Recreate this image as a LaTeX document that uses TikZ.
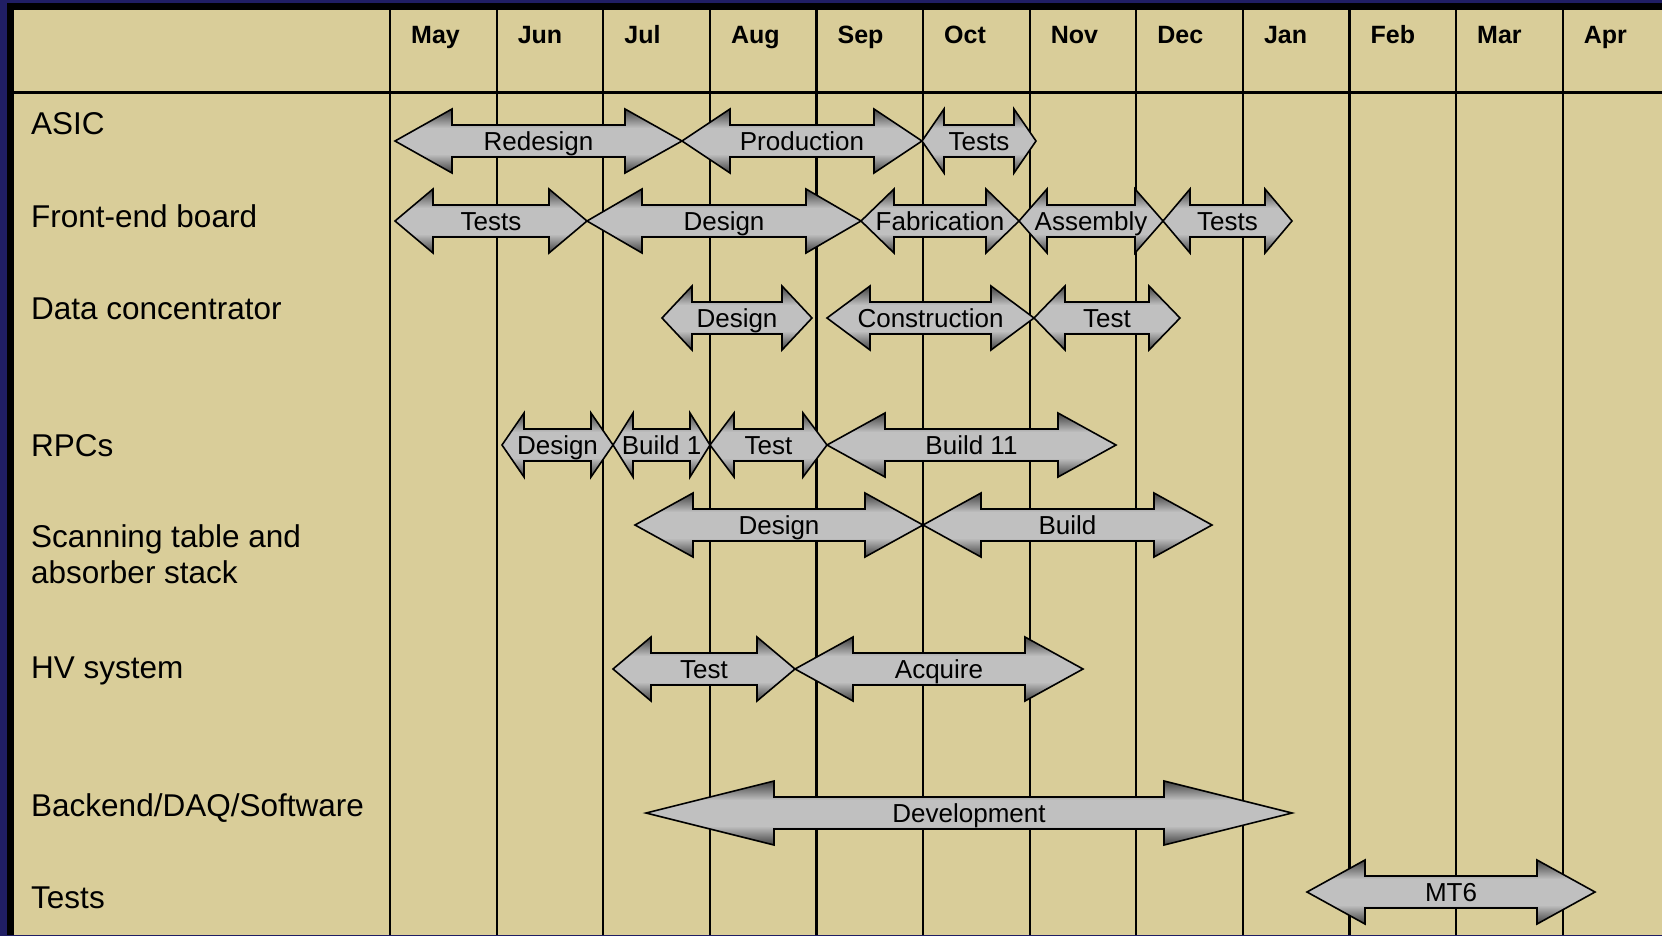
\documentclass[tikz,border=0pt]{standalone}
\usepackage{fontspec}
\setmainfont{Liberation Sans}
\usepackage{tikz}
\usetikzlibrary{positioning}
\definecolor{ganttkhaki}{RGB}{217,205,153}
\definecolor{ganttblue}{RGB}{48,44,140}
\definecolor{ganttnavy}{RGB}{32,30,100}
\definecolor{barlight}{RGB}{192,192,192}
\definecolor{barmid}{RGB}{118,118,118}
\definecolor{bardark}{RGB}{58,58,58}
\tikzset{
  gridline/.style={line width=2.2pt, draw=black},
  rowlabel/.style={anchor=base west, inner sep=0pt, align=left, font=\fontsize{31.5}{36}\selectfont},
  monthlabel/.style={anchor=base west, inner sep=0pt, font=\fontsize{25}{30}\selectfont\bfseries},
  barbox/.style={draw=black, line width=1.6pt, line join=miter},
  bartext/.style={anchor=base, inner sep=0pt, font=\fontsize{26}{30}\selectfont}
}
% double headed bar: name, row y, left tip, right tip, head length, text
\newcommand{\ganttbar}[6]{%
  \def\ganttbarpath{(#3,#2) -- (#3+#5,#2-32) -- (#3+#5,#2-16) -- (#4-#5,#2-16) -- (#4-#5,#2-32)
    -- (#4,#2) -- (#4-#5,#2+32) -- (#4-#5,#2+16) -- (#3+#5,#2+16) -- (#3+#5,#2+32) -- cycle}%
  \begin{scope}
    \clip \ganttbarpath;
    \fill[barlight] (#3,#2-33) rectangle (#4,#2+33);
    \shade[top color=bardark, middle color=barmid, bottom color=barlight] (#3,#2-33) rectangle (#4,#2-13);
    \shade[top color=barlight, middle color=barmid, bottom color=bardark] (#3,#2+13) rectangle (#4,#2+33);
  \end{scope}
  \draw[barbox] \ganttbarpath;
  \node[bartext] (#1) at ({(#3+#4)/2},#2+9) {#6};
}
\begin{document}
\begin{tikzpicture}[x=1pt,y=-1pt]
\useasboundingbox (0,0) rectangle (1662,935);
% frame
\shade[top color=ganttnavy, middle color=ganttblue, bottom color=ganttnavy] (0,0) rectangle (1662,935);
\fill[black] (7.3,3.3) rectangle (1662,935);
\fill[ganttkhaki] (14,10) rectangle (1662,935);

% grid
\draw[gridline] (14,92.5) -- (1662,92.5);
\foreach \i in {0,...,11}
  \draw[gridline] (390+106.6*\i,10) -- (390+106.6*\i,935);

% months
\foreach \m [count=\i from 0] in {May,Jun,Jul,Aug,Sep,Oct,Nov,Dec,Jan,Feb,Mar,Apr}
  \node[monthlabel] (month\i) at (411+106.6*\i,43) {\m};

% rows
\node[rowlabel] (asic) at (31,134) {ASIC};
\node[rowlabel] (feb) at (31,227) {Front-end board};
\node[rowlabel] (dc) at (31,319) {Data concentrator};
\node[rowlabel] (rpc) at (31,456) {RPCs};
\node[rowlabel] (scan) at (31,583) {Scanning table and\\absorber stack};
\node[rowlabel] (hv) at (31,678) {HV system};
\node[rowlabel] (daq) at (31,816) {Backend/DAQ/Software};
\node[rowlabel] (tests) at (31,908) {Tests};

% ASIC
\ganttbar{asicredesign}{141}{395}{682}{57}{Redesign}
\ganttbar{asicprod}{141}{682}{922}{48}{Production}
\ganttbar{asictests}{141}{922}{1036}{22}{Tests}

% Front-end board
\ganttbar{febtests}{221}{395}{587}{38}{Tests}
\ganttbar{febdesign}{221}{587}{861}{55}{Design}
\ganttbar{febfab}{221}{861}{1019}{33}{Fabrication}
\ganttbar{febassembly}{221}{1019}{1163}{28}{Assembly}
\ganttbar{febtests2}{221}{1163}{1292}{27}{Tests}

% Data concentrator
\ganttbar{dcdesign}{318}{662}{812}{30}{Design}
\ganttbar{dcconstr}{318}{827}{1034}{43}{Construction}
\ganttbar{dctest}{318}{1034}{1180}{31}{Test}

% RPCs
\ganttbar{rpcdesign}{445}{502}{613}{22}{Design}
\ganttbar{rpcbuildi}{445}{613}{710}{20}{Build 1}
\ganttbar{rpctest}{445}{710}{827}{24}{Test}
\ganttbar{rpcbuildii}{445}{827}{1116}{58}{Build 11}

% Scanning table
\ganttbar{scandesign}{525}{635}{923}{58}{Design}
\ganttbar{scanbuild}{525}{923}{1212}{58}{Build}

% HV
\ganttbar{hvtest}{669}{613}{795}{38}{Test}
\ganttbar{hvacquire}{669}{795}{1083}{58}{Acquire}

% Backend
\ganttbar{daqdev}{813}{646}{1292}{128}{Development}

% Tests
\ganttbar{testsmt}{892}{1307}{1595}{58}{MT6}
\end{tikzpicture}
\end{document}
